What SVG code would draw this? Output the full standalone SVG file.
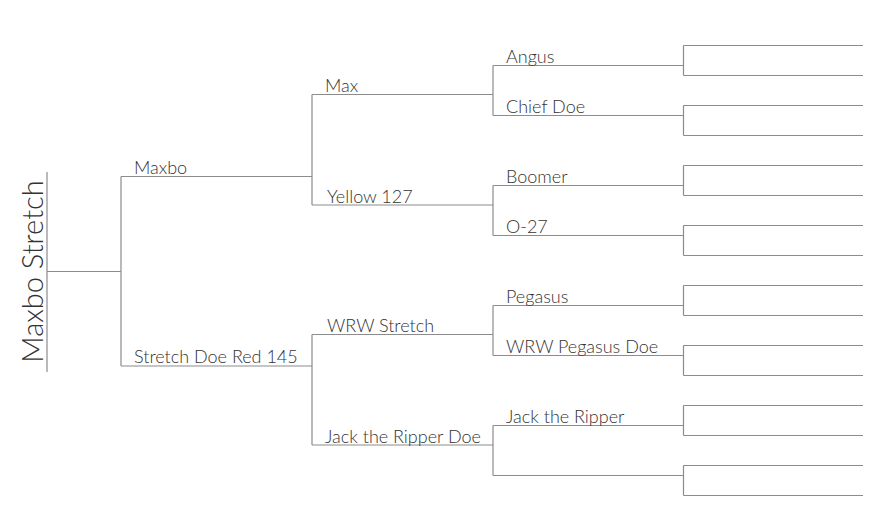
<svg xmlns="http://www.w3.org/2000/svg" width="884" height="526" viewBox="0 0 884 526">
<style>
.c{fill:none;stroke:#8c8c8c;stroke-width:1.2}
.t{font-family:Lato,"Open Sans","Liberation Sans",sans-serif;font-weight:300;font-size:18px;fill:#333}
.r{font-family:Lato,"Open Sans","Liberation Sans",sans-serif;font-weight:300;font-size:29px;fill:#333}
</style>
<rect width="884" height="526" fill="#fff"/>
<g id="connectors">
<path class="c" d="M47 172V372M47 271.5H121M121 176.5V366M121 176.5H312M121 366H312"/>
<path class="c" d="M312 94.5V205M312 334.5V445M312 94.5H493M312 205H493M312 334.5H493M312 445H493"/>
<path class="c" d="M493 65.5V115.5M493 185.5V235.5M493 305.5V355.5M493 425.5V475.5"/>
<path class="c" d="M493 65.5H683.5M493 115.5H683.5M493 185.5H683.5M493 235.5H683.5M493 305.5H683.5M493 355.5H683.5M493 425.5H683.5M493 475.5H683.5"/>
</g>
<g id="root"><text class="r" transform="translate(42.5 271.5) rotate(-90)" text-anchor="middle">Maxbo Stretch</text></g>
<g id="sire"><text class="t" x="134" y="173.5">Maxbo</text></g>
<g id="dam"><text class="t" x="134" y="363">Stretch Doe Red 145</text></g>
<g id="ss"><text class="t" x="325" y="92">Max</text></g>
<g id="sd"><text class="t" x="327" y="202.5">Yellow 127</text></g>
<g id="ds"><text class="t" x="327" y="332">WRW Stretch</text></g>
<g id="dd"><text class="t" x="325" y="442.5">Jack the Ripper Doe</text></g>
<g id="sss"><text class="t" x="506" y="63">Angus</text></g>
<g id="ssd"><text class="t" x="506" y="113">Chief Doe</text></g>
<g id="sds"><text class="t" x="506" y="183">Boomer</text></g>
<g id="sdd"><text class="t" x="506" y="233">O-27</text></g>
<g id="dss"><text class="t" x="506" y="303">Pegasus</text></g>
<g id="dsd"><text class="t" x="506" y="353">WRW Pegasus Doe</text></g>
<g id="dds"><text class="t" x="506" y="423">Jack the Ripper</text></g>
<g id="ddd"></g>
<g id="boxes">
<path class="c" d="M683.5 45.5V75.5M683.5 45.5H863M683.5 75.5H863"/>
<path class="c" d="M683.5 105.5V135.5M683.5 105.5H863M683.5 135.5H863"/>
<path class="c" d="M683.5 165.5V195.5M683.5 165.5H863M683.5 195.5H863"/>
<path class="c" d="M683.5 225.5V255.5M683.5 225.5H863M683.5 255.5H863"/>
<path class="c" d="M683.5 285.5V315.5M683.5 285.5H863M683.5 315.5H863"/>
<path class="c" d="M683.5 345.5V375.5M683.5 345.5H863M683.5 375.5H863"/>
<path class="c" d="M683.5 405.5V435.5M683.5 405.5H863M683.5 435.5H863"/>
<path class="c" d="M683.5 465.5V495.5M683.5 465.5H863M683.5 495.5H863"/>
</g>
</svg>
